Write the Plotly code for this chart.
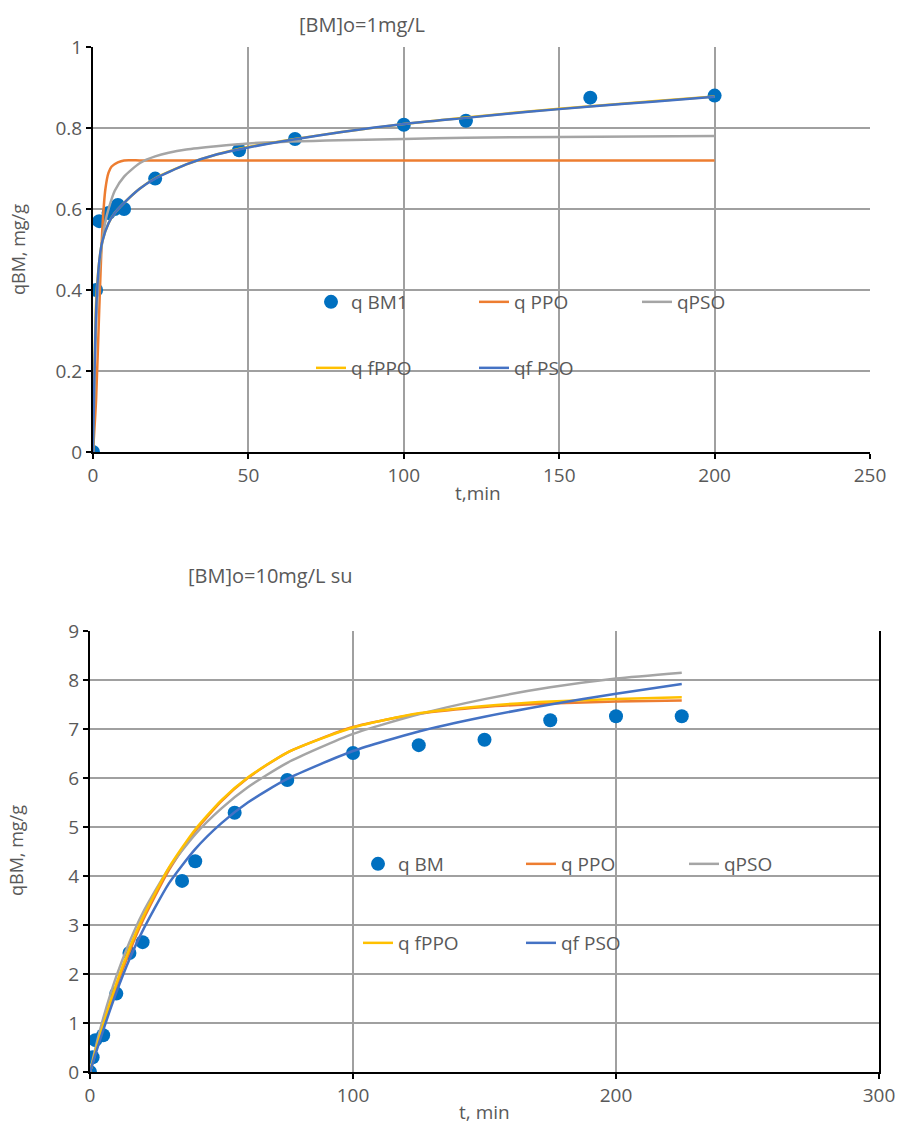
import plotly.graph_objects as go

# ---------------- Top chart data: [BM]o=1mg/L ----------------
t1_obs = [0, 1, 2, 5, 7, 8, 10, 20, 47, 65, 100, 120, 160, 200]
q1_obs = [0.0, 0.40, 0.57, 0.59, 0.60, 0.61, 0.60, 0.675, 0.745, 0.773, 0.808, 0.818, 0.875, 0.88]

t1_ppo = [0, 1, 2, 3, 4, 5, 6, 8, 10, 15, 20, 50, 100, 150, 200]
q1_ppo = [0.0, 0.13, 0.35, 0.55, 0.65, 0.69, 0.705, 0.715, 0.72, 0.72, 0.72, 0.72, 0.72, 0.72, 0.72]

t1_pso = [0, 0.5, 1, 2, 3, 4, 5, 7, 10, 15, 20, 30, 50, 75, 100, 120, 150, 200]
q1_pso = [0.0, 0.195, 0.31, 0.45, 0.52, 0.57, 0.60, 0.645, 0.68, 0.713, 0.73, 0.747, 0.762, 0.769,
          0.773, 0.776, 0.778, 0.78]

t1_f = [0, 0.5, 1, 2, 3, 5, 7, 10, 15, 20, 30, 40, 50, 65, 80, 100, 120, 140, 160, 180, 200]
q1_fppo = [0.0, 0.22, 0.37, 0.47, 0.52, 0.565, 0.59, 0.615, 0.65, 0.676, 0.71, 0.735, 0.753, 0.773,
           0.79, 0.81, 0.826, 0.841, 0.854, 0.866, 0.878]
q1_fpso = [0.0, 0.20, 0.35, 0.47, 0.52, 0.565, 0.59, 0.615, 0.65, 0.675, 0.71, 0.735, 0.752, 0.772,
           0.79, 0.81, 0.825, 0.84, 0.853, 0.865, 0.877]

# ---------------- Bottom chart data: [BM]o=10mg/L su ----------------
t2_obs = [0, 1, 2, 5, 10, 15, 20, 35, 40, 55, 75, 100, 125, 150, 175, 200, 225]
q2_obs = [0.0, 0.30, 0.65, 0.75, 1.60, 2.43, 2.65, 3.90, 4.30, 5.29, 5.96, 6.51, 6.67, 6.78, 7.18, 7.26, 7.26]

t2_fit = [0, 2, 5, 10, 15, 20, 30, 40, 50, 60, 75, 100, 125, 150, 175, 200, 225]
q2_ppo = [0.0, 0.385, 0.93, 1.74, 2.45, 3.08, 4.12, 4.92, 5.53, 6.00, 6.52, 7.04, 7.31, 7.45, 7.52, 7.56, 7.58]
q2_pso = [0.0, 0.47, 1.09, 1.95, 2.65, 3.24, 4.16, 4.85, 5.38, 5.81, 6.31, 6.90, 7.30, 7.61, 7.85, 8.03, 8.15]
q2_fppo = [0.0, 0.40, 0.96, 1.80, 2.52, 3.14, 4.17, 4.95, 5.55, 6.01, 6.52, 7.03, 7.32, 7.47, 7.56, 7.61, 7.65]
q2_fpso = [0.0, 0.35, 0.85, 1.62, 2.30, 2.88, 3.85, 4.55, 5.08, 5.50, 5.98, 6.55, 6.95, 7.25, 7.50, 7.72, 7.92]

# ---------------- Tick values ----------------
x1_ticks = [0, 50, 100, 150, 200, 250]
y1_ticks = [0, 0.2, 0.4, 0.6, 0.8, 1]
x2_ticks = [0, 100, 200, 300]
y2_ticks = [0, 1, 2, 3, 4, 5, 6, 7, 8, 9]

C_OBS = "#0070C0"
C_PPO = "#ED7D31"
C_PSO = "#A5A5A5"
C_FPPO = "#FFC000"
C_FPSO = "#4472C4"
TXT = "#595959"
FONT = "Open Sans"
FS = 19

W, H = 898, 1135

fig = go.Figure()

def add_set(xa, ya, tobs, qobs, series, obs_name, leg_a):
    fig.add_trace(go.Scatter(x=tobs, y=qobs, mode="markers", name=obs_name,
                             marker=dict(color=C_OBS, size=14, symbol="circle"),
                             xaxis=xa, yaxis=ya, legend=leg_a))
    for (tt, qq, name, col, leg) in series:
        fig.add_trace(go.Scatter(x=tt, y=qq, mode="lines", name=name,
                                 line=dict(color=col, width=2.5, shape="spline", smoothing=0.6),
                                 xaxis=xa, yaxis=ya, legend=leg))

add_set("x", "y", t1_obs, q1_obs,
        [(t1_ppo, q1_ppo, "q PPO", C_PPO, "legend"),
         (t1_pso, q1_pso, "qPSO", C_PSO, "legend"),
         (t1_f, q1_fppo, "q fPPO", C_FPPO, "legend2"),
         (t1_f, q1_fpso, "qf PSO", C_FPSO, "legend2")],
        "q BM1", "legend")

add_set("x2", "y2", t2_obs, q2_obs,
        [(t2_fit, q2_ppo, "q PPO", C_PPO, "legend3"),
         (t2_fit, q2_pso, "qPSO", C_PSO, "legend3"),
         (t2_fit, q2_fppo, "q fPPO", C_FPPO, "legend4"),
         (t2_fit, q2_fpso, "qf PSO", C_FPSO, "legend4")],
        "q BM", "legend3")

def px_x(p):
    return p / W

def px_y(p):
    return 1 - p / H

axis_common = dict(showgrid=True, gridcolor="#A0A0A0", gridwidth=1.5,
                   showline=True, linecolor="black", linewidth=2,
                   ticks="outside", ticklen=5, tickwidth=1.5, tickcolor="black",
                   tickfont=dict(family=FONT, size=FS, color=TXT),
                   zeroline=False, fixedrange=True, automargin=False)

fig.update_layout(
    width=W, height=H,
    margin=dict(l=0, r=0, t=0, b=0, autoexpand=False),
    paper_bgcolor="white", plot_bgcolor="white",
    font=dict(family=FONT, color=TXT),
    xaxis=dict(axis_common, domain=[px_x(93), px_x(870)], range=[0, 250],
               tickvals=x1_ticks, anchor="y"),
    yaxis=dict(axis_common, domain=[px_y(452), px_y(47)], range=[0, 1],
               tickvals=y1_ticks, anchor="x"),
    xaxis2=dict(axis_common, domain=[px_x(90), px_x(879)], range=[0, 300],
                tickvals=x2_ticks, anchor="y2"),
    yaxis2=dict(axis_common, domain=[px_y(1072), px_y(631)], range=[0, 9],
                tickvals=y2_ticks, anchor="x2", mirror=True),
)

leg_common = dict(orientation="h", bgcolor="rgba(0,0,0,0)", borderwidth=0,
                  font=dict(family=FONT, size=FS, color=TXT),
                  entrywidth=118, entrywidthmode="pixels",
                  xanchor="left", yanchor="middle", itemclick=False, itemdoubleclick=False)

fig.update_layout(
    legend=dict(leg_common, x=px_x(311), y=px_y(302)),
    legend2=dict(leg_common, x=px_x(311), y=px_y(368)),
    legend3=dict(leg_common, x=px_x(358), y=px_y(864)),
    legend4=dict(leg_common, x=px_x(358), y=px_y(943)),
)

ann = [
    dict(text="[BM]o=1mg/L", x=px_x(362), y=px_y(25), size=FS + 1),
    dict(text="[BM]o=10mg/L su", x=px_x(270), y=px_y(575), size=FS + 1),
    dict(text="t,min", x=px_x(478), y=px_y(493), size=FS),
    dict(text="t, min", x=px_x(485), y=px_y(1112), size=FS),
]
for a in ann:
    fig.add_annotation(text=a["text"], x=a["x"], y=a["y"], xref="paper", yref="paper",
                       showarrow=False, xanchor="center", yanchor="middle",
                       font=dict(family=FONT, size=a["size"], color=TXT))

for (txt, xc, yc) in [("qBM, mg/g", 18, 250), ("qBM, mg/g", 16, 851)]:
    fig.add_annotation(text=txt, x=px_x(xc), y=px_y(yc), xref="paper", yref="paper",
                       showarrow=False, textangle=-90, xanchor="center", yanchor="middle",
                       font=dict(family=FONT, size=FS - 1, color=TXT))

fig.write_html("out.html")
